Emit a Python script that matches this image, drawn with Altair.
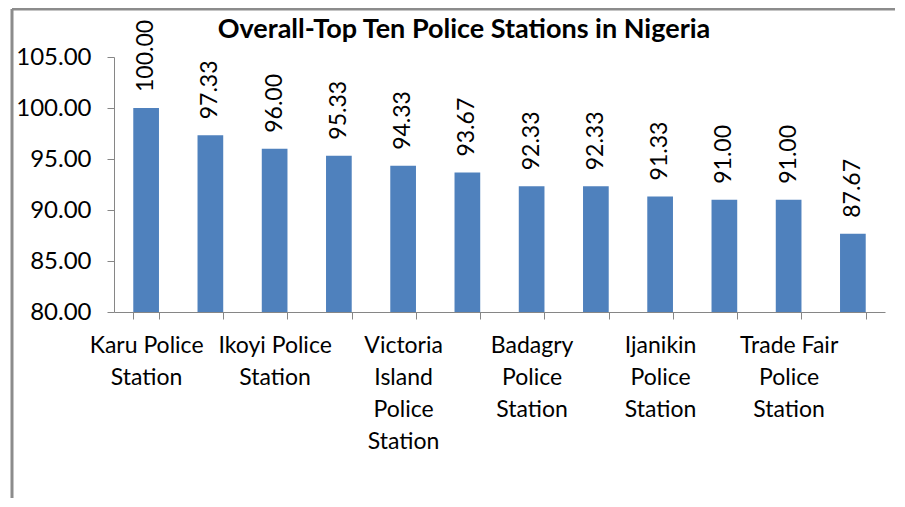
import altair as alt
import pandas as pd

stations = ["Karu Police Station", "Station 2", "Ikoyi Police Station", "Station 4",
            "Victoria Island Police Station", "Station 6", "Badagry Police Station", "Station 8",
            "Ijanikin Police Station", "Station 10", "Trade Fair Police Station", "Station 12"]
scores = [100.00, 97.33, 96.00, 95.33, 94.33, 93.67, 92.33, 92.33, 91.33, 91.00, 91.00, 87.67]
label_lines = [["Karu Police", "Station"], [], ["Ikoyi Police", "Station"], [],
               ["Victoria", "Island", "Police", "Station"], [], ["Badagry", "Police", "Station"], [],
               ["Ijanikin", "Police", "Station"], [], ["Trade Fair", "Police", "Station"], []]
y_ticks = [80, 85, 90, 95, 100, 105]
title_text = "Overall-Top Ten Police Stations in Nigeria"

df = pd.DataFrame({"station": stations, "score": scores})

expr = "''"
for name, lines in reversed(list(zip(stations, label_lines))):
    if lines:
        arr = "[" + ",".join("'" + l + "'" for l in lines) + "]"
        expr = f"datum.value == '{name}' ? {arr} : ({expr})"

FONT = "Lato"
GRAY = "#868686"

base = alt.Chart(df)

bars = base.mark_bar(color="#4F81BD", clip=True).encode(
    x=alt.X("station:N", sort=stations,
            scale=alt.Scale(paddingInner=0.6, paddingOuter=0.3),
            axis=alt.Axis(title=None, labelExpr=expr, labelAngle=0, labelFont=FONT,
                          labelFontSize=23, labelColor="#000", labelLineHeight=32,
                          labelOverlap=False, labelBound=False, labelFlush=False,
                          labelPadding=15, labelBaseline="top",
                          tickBand="extent", tickSize=7, tickColor=GRAY, domainColor=GRAY)),
    y=alt.Y("score:Q", scale=alt.Scale(domain=[80, 105], nice=False, zero=False),
            axis=alt.Axis(title=None, values=y_ticks, format=".2f", labelFont=FONT,
                          labelFontSize=24, labelColor="#000", labelPadding=16,
                          tickSize=7, tickColor=GRAY, domainColor=GRAY, grid=False)),
)

labels = base.mark_text(angle=270, align="left", baseline="middle", dx=16,
                        font=FONT, fontSize=23, color="#000").encode(
    x=alt.X("station:N", sort=stations),
    y="score:Q",
    text=alt.Text("score:Q", format=".2f"),
)

one = alt.Chart(pd.DataFrame({"a": [0]}))
title = one.mark_text(font=FONT, fontSize=27, fontWeight="bold", color="#000",
                      align="center", baseline="alphabetic").encode(
    x=alt.value(350), y=alt.value(-19), text=alt.value(title_text))
left_line = one.mark_rule(color="#8c8c8c", strokeWidth=3).encode(
    x=alt.value(-102), y=alt.value(-48), y2=alt.value(600))
top_line = one.mark_rule(color="#8c8c8c", strokeWidth=3).encode(
    x=alt.value(-102), x2=alt.value(800), y=alt.value(-48))

chart = alt.layer(bars, labels, title, left_line, top_line).properties(
    width=771, height=255,
    autosize=alt.AutoSizeParams(type="none"),
    padding={"left": 106, "top": 49, "right": 10, "bottom": 186},
).configure_view(stroke=None)

chart.save("out.html", embed_options={"renderer": "svg", "actions": False})
